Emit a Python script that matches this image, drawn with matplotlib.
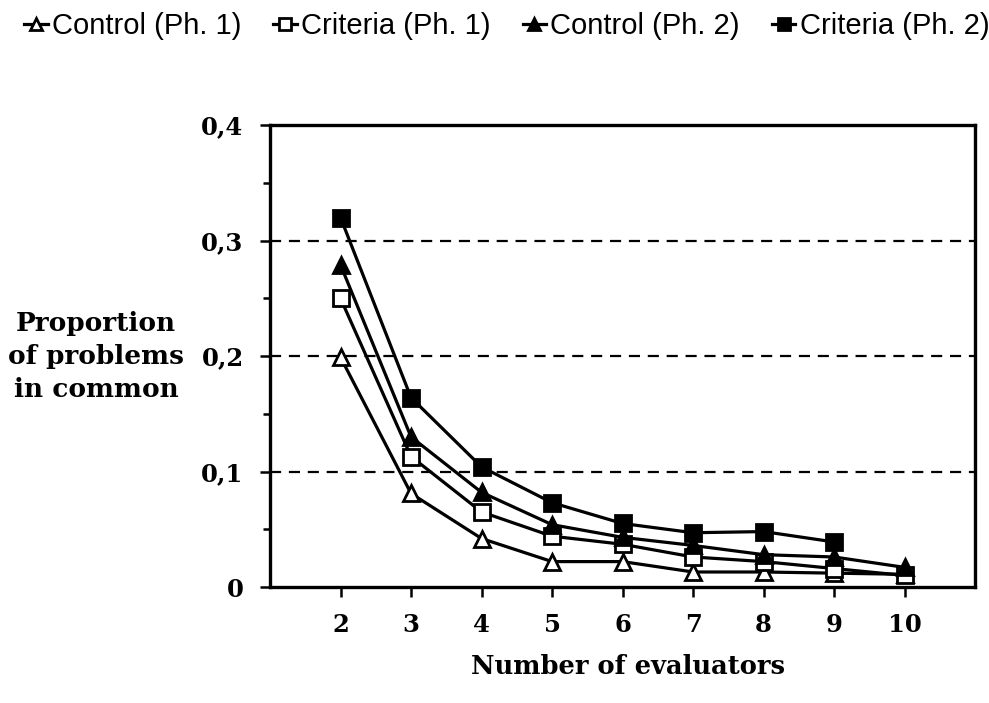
import numpy as np
import matplotlib
matplotlib.use("Agg")
import matplotlib.pyplot as plt
from matplotlib.ticker import MultipleLocator, FuncFormatter

# number of evaluators
evaluators = [2, 3, 4, 5, 6, 7, 8, 9, 10]
evaluators_short = [2, 3, 4, 5, 6, 7, 8, 9]

# proportion of problems in common
control_ph1 = [0.199, 0.081, 0.042, 0.022, 0.022, 0.013, 0.013, 0.012, 0.011]
criteria_ph1 = [0.250, 0.113, 0.065, 0.044, 0.037, 0.026, 0.022, 0.016, 0.010]
control_ph2 = [0.279, 0.130, 0.082, 0.054, 0.043, 0.036, 0.028, 0.026, 0.017]
criteria_ph2 = [0.320, 0.164, 0.104, 0.073, 0.055, 0.047, 0.048, 0.039]

series_labels = ["Control (Ph. 1)", "Criteria (Ph. 1)", "Control (Ph. 2)", "Criteria (Ph. 2)"]
grid_levels = [0.1, 0.2, 0.3]

serif = "DejaVu Serif"

fig = plt.figure(figsize=(9.89, 7.03), dpi=100)
ax = fig.add_axes([0.273, 0.165, 0.713, 0.657])

for y in grid_levels:
    ax.axhline(y, color="black", lw=1.6, ls=(0, (5, 3.5)), zorder=1)

ms = 12
mew = 2
ax.plot(evaluators, control_ph1, color="black", lw=2.3, marker="^", ms=ms,
        mfc="white", mec="black", mew=mew, label=series_labels[0], zorder=3)
ax.plot(evaluators, criteria_ph1, color="black", lw=2.3, marker="s", ms=ms - 1,
        mfc="white", mec="black", mew=mew, label=series_labels[1], zorder=3)
ax.plot(evaluators, control_ph2, color="black", lw=2.3, marker="^", ms=ms,
        mfc="black", mec="black", mew=mew, label=series_labels[2], zorder=3)
ax.plot(evaluators_short, criteria_ph2, color="black", lw=2.3, marker="s", ms=ms - 1,
        mfc="black", mec="black", mew=mew, label=series_labels[3], zorder=3)

ax.set_xlim(1, 11)
ax.set_ylim(0, 0.4)
ax.set_xticks(evaluators)
ax.yaxis.set_major_locator(MultipleLocator(0.1))
ax.yaxis.set_minor_locator(MultipleLocator(0.05))
ax.yaxis.set_major_formatter(FuncFormatter(
    lambda v, p: "0" if abs(v) < 1e-9 else ("%.1f" % v).replace(".", ",")))

for s in ax.spines.values():
    s.set_linewidth(2.4)
ax.tick_params(axis="both", which="both", direction="out", width=1.8, color="black")
ax.tick_params(axis="both", which="major", length=7, pad=12)
ax.tick_params(axis="y", which="minor", length=5)
for lab in ax.get_xticklabels() + ax.get_yticklabels():
    lab.set_fontfamily(serif)
    lab.set_fontweight("bold")
    lab.set_fontsize(17.5)

fig.text(628 / 989, 1 - 667 / 703, "Number of evaluators", ha="center", va="center",
         family=serif, weight="bold", fontsize=18.5)
fig.text(96 / 989, 1 - 357 / 703, "Proportion\nof problems\nin common", ha="center",
         va="center", family=serif, weight="bold", fontsize=19, linespacing=1.4)

fig.legend(loc="upper left", bbox_to_anchor=(-0.002, 1.02), ncol=4, frameon=False,
           handlelength=0.8, handletextpad=0.15, columnspacing=1.1, markerscale=0.75,
           prop={"family": "Liberation Sans", "size": 21})

fig.savefig("out.png", dpi=100)
